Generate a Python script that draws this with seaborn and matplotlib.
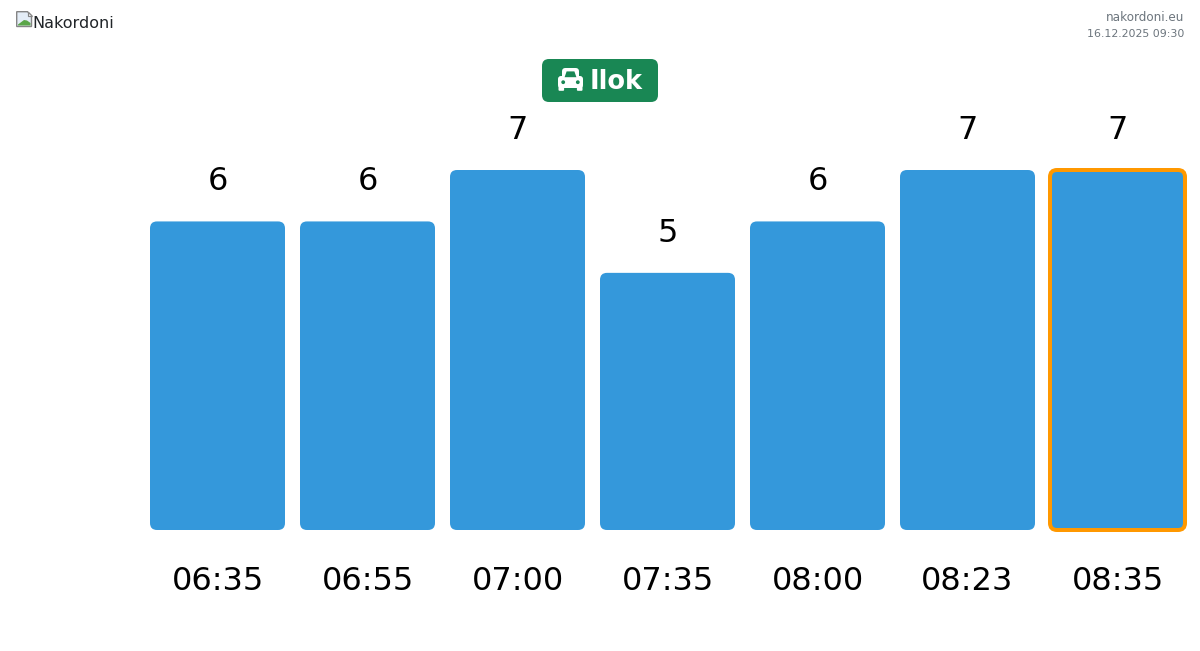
import matplotlib
matplotlib.use("Agg")
import matplotlib.pyplot as plt
import seaborn as sns
from matplotlib.patches import FancyBboxPatch, Polygon, Circle

times = ["06:35", "06:55", "07:00", "07:35", "08:00", "08:23", "08:35"]
values = [6, 6, 7, 5, 6, 7, 7]
highlight = "08:35"
badge_label = "Ilok"
brand_alt = "Nakordoni"
site = "nakordoni.eu"
stamp = "16.12.2025 09:30"

BLUE = "#3498db"
ORANGE = "#ff9800"
GREEN = "#198754"
W, H = 1200, 651

sns.set_theme(style="white")
plt.rcParams["font.family"] = ["DejaVu Sans"]
px = 72 / 100

fig = plt.figure(figsize=(W / 100, H / 100), dpi=100, facecolor="white")

# page overlay in pixel coordinates
bg = fig.add_axes([0, 0, 1, 1], zorder=0)
bg.set_xlim(0, W)
bg.set_ylim(H, 0)
bg.axis("off")

ax = fig.add_axes([142.5 / W, (H - 530) / H, 1050 / W, 360 / H], zorder=1)
ax.patch.set_alpha(0)
sns.barplot(x=times, y=values, color=BLUE, saturation=1, width=0.9, ax=ax)
ax.set_xlim(-0.5, 6.5)
ax.set_ylim(0, 7)
sns.despine(ax=ax, left=True, bottom=True)
ax.set_yticks([])
ax.set_xlabel("")
ax.set_ylabel("")
ax.tick_params(axis="x", length=0, pad=35.5 * px, labelsize=32 * px, labelcolor="black")

# rounded bars from the geometry seaborn computed
x_unit, y_unit = 150.0, 360 / 7
radius = 7.0
for bar, t, v in zip(list(ax.patches), times, values):
    x0, y0, w, h = bar.get_x(), bar.get_y(), bar.get_width(), bar.get_height()
    bar.remove()
    r = radius / x_unit
    hi = t == highlight
    ax.add_patch(FancyBboxPatch(
        (x0 + r, y0 + radius / y_unit), w - 2 * r, h - 2 * radius / y_unit,
        boxstyle=f"round,pad={r},rounding_size={r}",
        mutation_aspect=x_unit / y_unit,
        facecolor=BLUE,
        edgecolor=ORANGE if hi else "none",
        linewidth=4 * px if hi else 0,
        clip_on=False, zorder=3))
    ax.annotate(str(v), xy=(x0 + w / 2, v), xytext=(0, 31 * px),
                textcoords="offset points", ha="center", va="baseline",
                fontsize=32 * px, color="black", annotation_clip=False, zorder=4)

# title badge
bg.add_patch(FancyBboxPatch((548, 65), 104, 31, boxstyle="round,pad=6,rounding_size=7",
                            facecolor=GREEN, edgecolor="none"))
bg.text(590, 88.8, badge_label, color="white", fontsize=25.6 * px, fontweight="bold",
        ha="left", va="baseline")

# car icon
bg.add_patch(FancyBboxPatch((564.5, 70.5), 12, 10, boxstyle="round,pad=2.5,rounding_size=3.5",
                            facecolor="white", edgecolor="none"))
bg.add_patch(FancyBboxPatch((560.5, 78.5), 20, 7, boxstyle="round,pad=2.5,rounding_size=3",
                            facecolor="white", edgecolor="none"))
bg.add_patch(Polygon([(566.6, 71.4), (574.4, 71.4), (576.4, 77.2), (564.6, 77.2)],
                     closed=True, facecolor=GREEN, edgecolor="none"))
bg.add_patch(Circle((563.2, 82.2), 1.9, facecolor=GREEN, edgecolor="none"))
bg.add_patch(Circle((577.8, 82.2), 1.9, facecolor=GREEN, edgecolor="none"))
bg.add_patch(FancyBboxPatch((559.5, 86), 3.6, 3.8, boxstyle="round,pad=1,rounding_size=1",
                            facecolor="white", edgecolor="none"))
bg.add_patch(FancyBboxPatch((577.9, 86), 3.6, 3.8, boxstyle="round,pad=1,rounding_size=1",
                            facecolor="white", edgecolor="none"))

# broken-image icon
bg.add_patch(Polygon([(16.7, 11.7), (27.5, 11.7), (31.5, 15.7), (31.5, 26.5), (16.7, 26.5)],
                     closed=True, facecolor="#e4edf7", edgecolor="#858585", linewidth=1.4 * px))
bg.add_patch(Polygon([(18, 25.5), (18, 24.5), (24, 20), (27, 20.5), (30.5, 23), (30.5, 25.5)],
                     closed=True, facecolor="#5aa648", edgecolor="none"))
bg.add_patch(Polygon([(27.5, 11.7), (27.5, 15.7), (31.5, 15.7)],
                     closed=True, facecolor="white", edgecolor="#858585", linewidth=1.2 * px))

bg.text(32.7, 28, brand_alt, color="#212529", fontsize=16 * px, ha="left", va="baseline")
bg.text(1184, 21, site, color="#6c757d", fontsize=12 * px, ha="right", va="baseline")
bg.text(1184, 37, stamp, color="#6c757d", fontsize=11 * px, ha="right", va="baseline")

fig.savefig("out.png", dpi=100, facecolor="white")
